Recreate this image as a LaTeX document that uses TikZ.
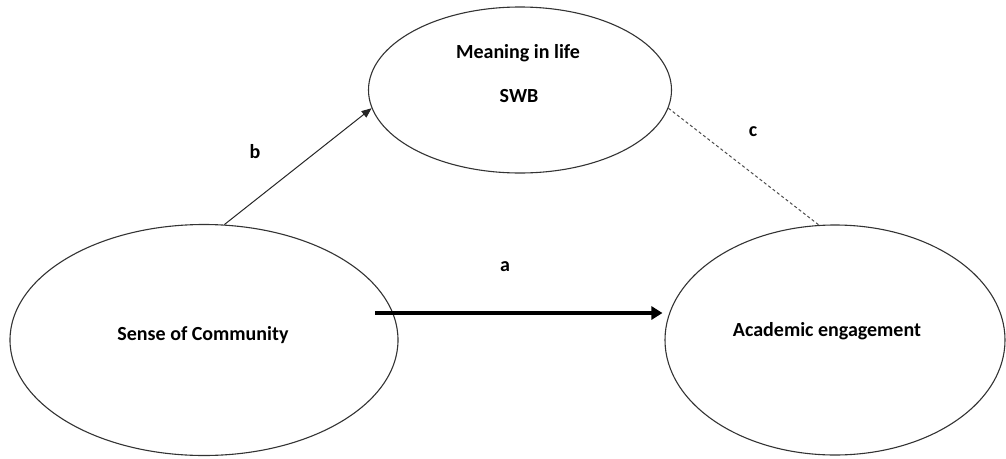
\documentclass[tikz,border=0pt]{standalone}
\usepackage{fontspec}
\setmainfont{Carlito}
\usetikzlibrary{shapes.geometric,arrows.meta}
\begin{document}
\begin{tikzpicture}[x=1pt,y=-1pt,
  oval/.style={draw=black!80,line width=1.1pt,ellipse,inner sep=0pt},
  lbl/.style={font=\bfseries\fontsize{20}{24}\selectfont,inner sep=0pt},
  thinarrow/.style={draw=black!85,line width=1pt,-{Triangle[length=10pt,width=8pt]}},
  thickarrow/.style={draw=black,line width=3.5pt,-{Triangle[length=11pt,width=13pt]}},
  dashline/.style={draw=black!70,line width=1pt,dash pattern=on 3pt off 2.5pt}]
\useasboundingbox (0,0) rectangle (1006,458);
\node[oval,minimum width=303pt,minimum height=166pt] (T) at (520,90) {};
\node[oval,minimum width=388pt,minimum height=231pt] (L) at (204,340) {};
\node[oval,minimum width=340pt,minimum height=230pt] (R) at (835,340) {};
\node[lbl] (t1) at (518,53) {Meaning in life};
\node[lbl] (t2) at (519,96) {SWB};
\node[lbl] (t3) at (203,335) {Sense of Community};
\node[lbl] (t4) at (827,331) {Academic engagement};
\node[lbl] (la) at (505,267) {a};
\node[lbl] (lb) at (255,152) {b};
\node[lbl] (lc) at (753,132) {c};
\draw[thinarrow] (L.80.5) -- (T.187.7);
\coordinate (aS) at (375,313);
\draw[thickarrow] (aS) -- ([xshift=-2pt]aS -| R.west);
\draw[dashline] (T.-7.6) -- (R.98.6);
\end{tikzpicture}
\end{document}
